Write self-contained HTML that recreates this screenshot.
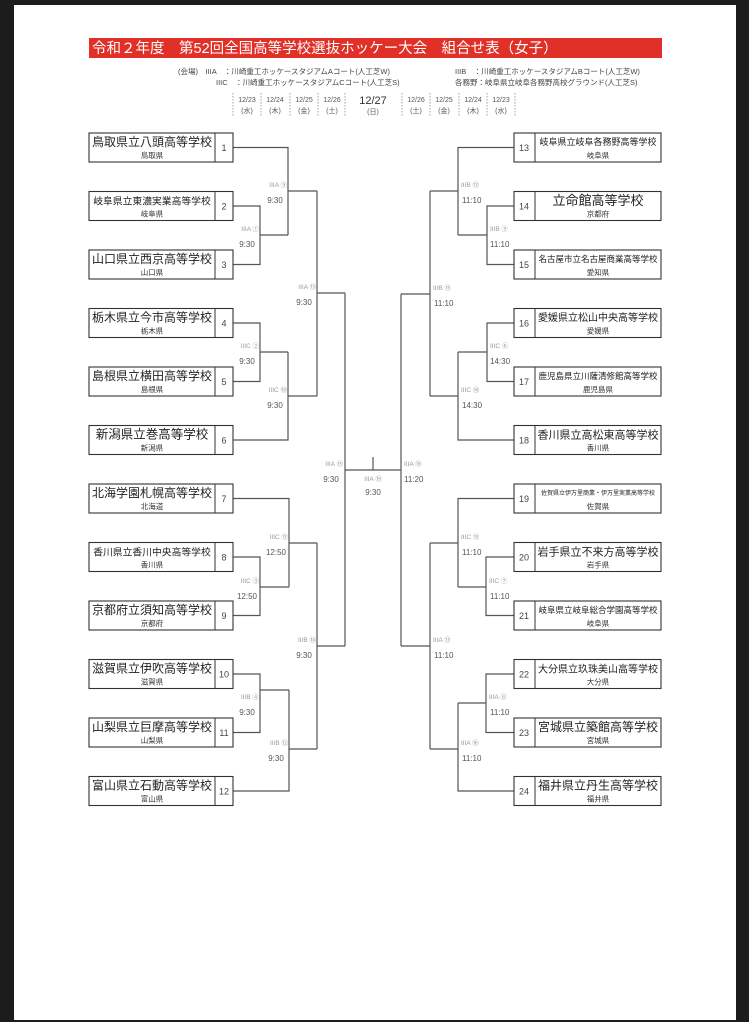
<!DOCTYPE html>
<html><head><meta charset="utf-8"><style>
html,body{margin:0;padding:0;background:#1c1c1c;}
svg{display:block;}
text{font-family:"Liberation Sans","Noto Sans CJK JP",sans-serif;}
.nm{fill:#222;text-anchor:middle;}
.pf{fill:#333;font-size:7.5px;text-anchor:middle;}
.no{fill:#444;font-size:9px;text-anchor:middle;}
.lv{fill:#999;font-size:6.5px;}
.lt{fill:#555;font-size:8px;}
.ln{fill:none;stroke:#555;stroke-width:1.2;}
.bx{fill:#fff;stroke:#333;stroke-width:1.1;}
.sm{fill:#444;font-size:7.5px;}
.dt{fill:#555;font-size:7px;text-anchor:middle;}
.ds{stroke:#888;stroke-width:0.8;stroke-dasharray:1.5,1.5;}
</style></head><body>
<svg width="749" height="1022" viewBox="0 0 749 1022" xmlns="http://www.w3.org/2000/svg">
<rect x="14" y="5" width="722" height="1015" fill="#fff"/>
<rect x="89" y="38" width="573" height="20" fill="#e03027"/>
<text x="92" y="53" fill="#fff" font-size="14.5">令和２年度　第52回全国高等学校選抜ホッケー大会　組合せ表（女子）</text>
<text x="178" y="74" class="sm">(会場)　IIIA　：川崎重工ホッケースタジアムAコート(人工芝W)</text>
<text x="216" y="85" class="sm">IIIC　：川崎重工ホッケースタジアムCコート(人工芝S)</text>
<text x="455" y="74" class="sm">IIIB　：川崎重工ホッケースタジアムBコート(人工芝W)</text>
<text x="455" y="85" class="sm">各務野：岐阜県立岐阜各務野高校グラウンド(人工芝S)</text>
<g>
<line x1="233" y1="93" x2="233" y2="117" class="ds"/><line x1="261" y1="93" x2="261" y2="117" class="ds"/><line x1="290" y1="93" x2="290" y2="117" class="ds"/><line x1="318" y1="93" x2="318" y2="117" class="ds"/><line x1="345" y1="93" x2="345" y2="117" class="ds"/>
<line x1="402" y1="93" x2="402" y2="117" class="ds"/><line x1="430" y1="93" x2="430" y2="117" class="ds"/><line x1="459" y1="93" x2="459" y2="117" class="ds"/><line x1="487" y1="93" x2="487" y2="117" class="ds"/><line x1="515" y1="93" x2="515" y2="117" class="ds"/>
<text x="247" y="102" class="dt">12/23</text><text x="247" y="113" class="dt">(水)</text>
<text x="275" y="102" class="dt">12/24</text><text x="275" y="113" class="dt">(木)</text>
<text x="304" y="102" class="dt">12/25</text><text x="304" y="113" class="dt">(金)</text>
<text x="332" y="102" class="dt">12/26</text><text x="332" y="113" class="dt">(土)</text>
<text x="373" y="104" fill="#333" font-size="11" text-anchor="middle">12/27</text><text x="373" y="114" class="dt">(日)</text>
<text x="416" y="102" class="dt">12/26</text><text x="416" y="113" class="dt">(土)</text>
<text x="444" y="102" class="dt">12/25</text><text x="444" y="113" class="dt">(金)</text>
<text x="473" y="102" class="dt">12/24</text><text x="473" y="113" class="dt">(木)</text>
<text x="501" y="102" class="dt">12/23</text><text x="501" y="113" class="dt">(水)</text>
</g>
<!-- lines -->
<path class="ln" d="M233,147.5H288V235M233,206H260V264.5H233M260,235H288M288,191H317
M233,323H260V381.5H233M260,352H288M233,440H288V352M288,396H317M317,191V396M317,293H345
M233,498.5H289V587M233,557H260V615.5H233M260,587H289M289,543H317
M233,674H260V732.5H233M260,690H289M233,791H289V690M289,749H317M317,543V749M317,646H345M345,293V646
M345,470H401M373,457V470
M514,147.5H458V235M514,206H487V264.5H514M487,235H458M458,191H430
M514,323H487V381.5H514M487,352H458M514,440H458V352M458,396H430M430,191V396M430,294H401
M514,498.5H458V587M514,557H486V615.5H514M486,587H458M458,543H430
M514,674H486V732.5H514M486,703H458M514,791H458V703M458,749H430M430,543V749M430,646H401M401,294V646"/>
<!-- left labels -->
<g class="lv" text-anchor="end">
<text x="287" y="187">IIIA ⑨</text><text x="259" y="231">IIIA ①</text>
<text x="259" y="348">IIIC ②</text><text x="287" y="392">IIIC ⑩</text>
<text x="316" y="289">IIIA ⑬</text>
<text x="288" y="539">IIIC ⑪</text><text x="259" y="583">IIIC ③</text>
<text x="259" y="699">IIIB ④</text><text x="288" y="745">IIIB ⑫</text>
<text x="316" y="642">IIIB ⑭</text><text x="343" y="466">IIIA ⑮</text>
</g>
<g class="lt" text-anchor="middle">
<text x="275" y="203">9:30</text><text x="247" y="247">9:30</text>
<text x="247" y="364">9:30</text><text x="275" y="408">9:30</text>
<text x="304" y="305">9:30</text>
<text x="276" y="555">12:50</text><text x="247" y="599">12:50</text>
<text x="247" y="715">9:30</text><text x="276" y="761">9:30</text>
<text x="304" y="658">9:30</text><text x="331" y="482">9:30</text>
<text x="373" y="495">9:30</text>
</g>
<text x="373" y="481" class="lv" text-anchor="middle">IIIA ⑲</text>
<!-- right labels -->
<g class="lv">
<text x="461" y="187">IIIB ⑬</text><text x="490" y="231">IIIB ⑤</text>
<text x="490" y="348">IIIC ⑥</text><text x="461" y="392">IIIC ⑭</text>
<text x="433" y="290">IIIB ⑮</text>
<text x="461" y="539">IIIC ⑮</text><text x="489" y="583">IIIC ⑦</text>
<text x="489" y="699">IIIA ⑧</text><text x="461" y="745">IIIA ⑯</text>
<text x="433" y="642">IIIA ⑰</text><text x="404" y="466">IIIA ⑱</text>
</g>
<g class="lt">
<text x="462" y="203">11:10</text><text x="490" y="247">11:10</text>
<text x="490" y="364">14:30</text><text x="462" y="408">14:30</text>
<text x="434" y="306">11:10</text>
<text x="462" y="555">11:10</text><text x="490" y="599">11:10</text>
<text x="490" y="715">11:10</text><text x="462" y="761">11:10</text>
<text x="434" y="658">11:10</text><text x="404" y="482">11:20</text>
</g>
<!-- left boxes -->
<g>
<rect class="bx" x="89" y="133" width="144" height="29"/><line x1="215" y1="133" x2="215" y2="162" stroke="#333"/>
<text class="nm" x="152" y="146" font-size="12">鳥取県立八頭高等学校</text><text class="pf" x="152" y="158">鳥取県</text><text class="no" x="224" y="151">1</text>
<rect class="bx" x="89" y="191.5" width="144" height="29"/><line x1="215" y1="191.5" x2="215" y2="220.5" stroke="#333"/>
<text class="nm" x="152" y="204.5" font-size="9.8">岐阜県立東濃実業高等学校</text><text class="pf" x="152" y="216.5">岐阜県</text><text class="no" x="224" y="209.5">2</text>
<rect class="bx" x="89" y="250" width="144" height="29"/><line x1="215" y1="250" x2="215" y2="279" stroke="#333"/>
<text class="nm" x="152" y="263" font-size="12">山口県立西京高等学校</text><text class="pf" x="152" y="275">山口県</text><text class="no" x="224" y="268">3</text>
<rect class="bx" x="89" y="308.5" width="144" height="29"/><line x1="215" y1="308.5" x2="215" y2="337.5" stroke="#333"/>
<text class="nm" x="152" y="321.5" font-size="12">栃木県立今市高等学校</text><text class="pf" x="152" y="333.5">栃木県</text><text class="no" x="224" y="326.5">4</text>
<rect class="bx" x="89" y="367" width="144" height="29"/><line x1="215" y1="367" x2="215" y2="396" stroke="#333"/>
<text class="nm" x="152" y="380" font-size="12">島根県立横田高等学校</text><text class="pf" x="152" y="392">島根県</text><text class="no" x="224" y="385">5</text>
<rect class="bx" x="89" y="425.5" width="144" height="29"/><line x1="215" y1="425.5" x2="215" y2="454.5" stroke="#333"/>
<text class="nm" x="152" y="438.5" font-size="12.5">新潟県立巻高等学校</text><text class="pf" x="152" y="450.5">新潟県</text><text class="no" x="224" y="443.5">6</text>
<rect class="bx" x="89" y="484" width="144" height="29"/><line x1="215" y1="484" x2="215" y2="513" stroke="#333"/>
<text class="nm" x="152" y="497" font-size="12">北海学園札幌高等学校</text><text class="pf" x="152" y="509">北海道</text><text class="no" x="224" y="502">7</text>
<rect class="bx" x="89" y="542.5" width="144" height="29"/><line x1="215" y1="542.5" x2="215" y2="571.5" stroke="#333"/>
<text class="nm" x="152" y="555.5" font-size="9.8">香川県立香川中央高等学校</text><text class="pf" x="152" y="567.5">香川県</text><text class="no" x="224" y="560.5">8</text>
<rect class="bx" x="89" y="601" width="144" height="29"/><line x1="215" y1="601" x2="215" y2="630" stroke="#333"/>
<text class="nm" x="152" y="614" font-size="12">京都府立須知高等学校</text><text class="pf" x="152" y="626">京都府</text><text class="no" x="224" y="619">9</text>
<rect class="bx" x="89" y="659.5" width="144" height="29"/><line x1="215" y1="659.5" x2="215" y2="688.5" stroke="#333"/>
<text class="nm" x="152" y="672.5" font-size="12">滋賀県立伊吹高等学校</text><text class="pf" x="152" y="684.5">滋賀県</text><text class="no" x="224" y="677.5">10</text>
<rect class="bx" x="89" y="718" width="144" height="29"/><line x1="215" y1="718" x2="215" y2="747" stroke="#333"/>
<text class="nm" x="152" y="731" font-size="12">山梨県立巨摩高等学校</text><text class="pf" x="152" y="743">山梨県</text><text class="no" x="224" y="736">11</text>
<rect class="bx" x="89" y="776.5" width="144" height="29"/><line x1="215" y1="776.5" x2="215" y2="805.5" stroke="#333"/>
<text class="nm" x="152" y="789.5" font-size="12">富山県立石動高等学校</text><text class="pf" x="152" y="801.5">富山県</text><text class="no" x="224" y="794.5">12</text>
</g>
<!-- right boxes -->
<g>
<rect class="bx" x="514" y="133" width="147" height="29"/><line x1="535" y1="133" x2="535" y2="162" stroke="#333"/>
<text class="nm" x="598" y="145" font-size="9">岐阜県立岐阜各務野高等学校</text><text class="pf" x="598" y="158">岐阜県</text><text class="no" x="524" y="151">13</text>
<rect class="bx" x="514" y="191.5" width="147" height="29"/><line x1="535" y1="191.5" x2="535" y2="220.5" stroke="#333"/>
<text class="nm" x="598" y="205" font-size="13">立命館高等学校</text><text class="pf" x="598" y="216.5">京都府</text><text class="no" x="524" y="209.5">14</text>
<rect class="bx" x="514" y="250" width="147" height="29"/><line x1="535" y1="250" x2="535" y2="279" stroke="#333"/>
<text class="nm" x="598" y="262" font-size="8.5">名古屋市立名古屋商業高等学校</text><text class="pf" x="598" y="275">愛知県</text><text class="no" x="524" y="268">15</text>
<rect class="bx" x="514" y="308.5" width="147" height="29"/><line x1="535" y1="308.5" x2="535" y2="337.5" stroke="#333"/>
<text class="nm" x="598" y="321" font-size="10">愛媛県立松山中央高等学校</text><text class="pf" x="598" y="333.5">愛媛県</text><text class="no" x="524" y="326.5">16</text>
<rect class="bx" x="514" y="367" width="147" height="29"/><line x1="535" y1="367" x2="535" y2="396" stroke="#333"/>
<text class="nm" x="598" y="379" font-size="8.5">鹿児島県立川薩清修館高等学校</text><text class="pf" x="598" y="392">鹿児島県</text><text class="no" x="524" y="385">17</text>
<rect class="bx" x="514" y="425.5" width="147" height="29"/><line x1="535" y1="425.5" x2="535" y2="454.5" stroke="#333"/>
<text class="nm" x="598" y="438.5" font-size="11">香川県立高松東高等学校</text><text class="pf" x="598" y="450.5">香川県</text><text class="no" x="524" y="443.5">18</text>
<rect class="bx" x="514" y="484" width="147" height="29"/><line x1="535" y1="484" x2="535" y2="513" stroke="#333"/>
<text class="nm" x="598" y="495" font-size="6">佐賀県立伊万里商業・伊万里実業高等学校</text><text class="pf" x="598" y="509">佐賀県</text><text class="no" x="524" y="502">19</text>
<rect class="bx" x="514" y="542.5" width="147" height="29"/><line x1="535" y1="542.5" x2="535" y2="571.5" stroke="#333"/>
<text class="nm" x="598" y="555.5" font-size="11">岩手県立不来方高等学校</text><text class="pf" x="598" y="567.5">岩手県</text><text class="no" x="524" y="560.5">20</text>
<rect class="bx" x="514" y="601" width="147" height="29"/><line x1="535" y1="601" x2="535" y2="630" stroke="#333"/>
<text class="nm" x="598" y="613" font-size="8.5">岐阜県立岐阜総合学園高等学校</text><text class="pf" x="598" y="626">岐阜県</text><text class="no" x="524" y="619">21</text>
<rect class="bx" x="514" y="659.5" width="147" height="29"/><line x1="535" y1="659.5" x2="535" y2="688.5" stroke="#333"/>
<text class="nm" x="598" y="672.5" font-size="10">大分県立玖珠美山高等学校</text><text class="pf" x="598" y="684.5">大分県</text><text class="no" x="524" y="677.5">22</text>
<rect class="bx" x="514" y="718" width="147" height="29"/><line x1="535" y1="718" x2="535" y2="747" stroke="#333"/>
<text class="nm" x="598" y="731" font-size="12">宮城県立築館高等学校</text><text class="pf" x="598" y="743">宮城県</text><text class="no" x="524" y="736">23</text>
<rect class="bx" x="514" y="776.5" width="147" height="29"/><line x1="535" y1="776.5" x2="535" y2="805.5" stroke="#333"/>
<text class="nm" x="598" y="789.5" font-size="12">福井県立丹生高等学校</text><text class="pf" x="598" y="801.5">福井県</text><text class="no" x="524" y="794.5">24</text>
</g>
</svg>
</body></html>
